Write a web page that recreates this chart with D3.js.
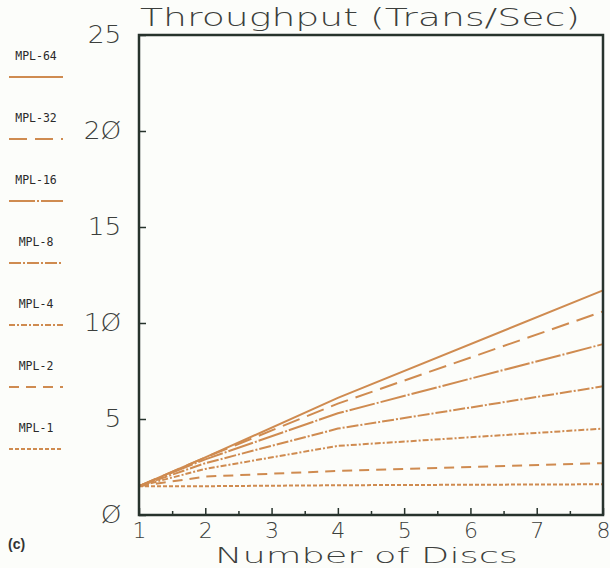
<!DOCTYPE html>
<html lang="en">
<head>
<meta charset="utf-8">
<title>Throughput vs. Number of Discs</title>
<script src="https://d3js.org/d3.v7.min.js"></script>
<style>
  body { margin: 0; background: #fcfdfa; }
  .plotfont { font-family: "DejaVu Sans", sans-serif; fill: #3c3f3c; }
</style>
</head>
<body>
<script>
// Data
const discs = [1, 2, 4, 8];
const seriesNames = ["MPL-64", "MPL-32", "MPL-16", "MPL-8", "MPL-4", "MPL-2", "MPL-1"];
const mpl64 = [1.5, 3.0, 6.1, 11.7];
const mpl32 = [1.5, 3.0, 5.8, 10.6];
const mpl16 = [1.5, 2.9, 5.3, 8.9];
const mpl8  = [1.5, 2.7, 4.5, 6.7];
const mpl4  = [1.5, 2.4, 3.6, 4.5];
const mpl2  = [1.5, 2.0, 2.3, 2.7];
const mpl1  = [1.5, 1.5, 1.55, 1.6];
const xTicks = [1, 2, 3, 4, 5, 6, 7, 8];
const yTicks = [0, 5, 10, 15, 20, 25];
const yTickLabels = ["Ø", "5", "1Ø", "15", "2Ø", "25"];

const seriesValues = [mpl64, mpl32, mpl16, mpl8, mpl4, mpl2, mpl1];
const dashes = ["none", "18,8", "26,2,2,2", "12,2,2,2", "6,2,2,2", "10,7", "4,2"];

// Constants
const w = 610, h = 568;
const plotLeft = 139, plotRight = 603, plotTop = 35, plotBottom = 515;
const lineColor = "#cf8b50";

const svg = d3.select("body").append("svg")
    .attr("width", w)
    .attr("height", h);

const x = d3.scaleLinear().domain([1, 8]).range([plotLeft, plotRight]);
const y = d3.scaleLinear().domain([0, 25]).range([plotBottom, plotTop]);

// Lines
const line = d3.line()
    .x((d, i) => x(discs[i]))
    .y(d => y(d));

svg.selectAll("path.series")
    .data(seriesValues)
    .enter()
    .append("path")
    .attr("class", "series")
    .attr("d", d => line(d))
    .attr("fill", "none")
    .attr("stroke", lineColor)
    .attr("stroke-width", 2)
    .attr("stroke-dasharray", (d, i) => dashes[i]);

// Frame
svg.append("rect")
    .attr("x", plotLeft)
    .attr("y", plotTop)
    .attr("width", plotRight - plotLeft)
    .attr("height", plotBottom - plotTop)
    .attr("fill", "none")
    .attr("stroke", "#27332c")
    .attr("stroke-width", 2.5);

// Left axis (ticks inside)
const leftAxis = d3.axisLeft(y)
    .tickValues(yTicks)
    .tickSize(-7)
    .tickPadding(16)
    .tickFormat((d, i) => yTickLabels[i]);

const gy = svg.append("g")
    .attr("transform", "translate(" + plotLeft + ",0)")
    .call(leftAxis);
gy.select(".domain").remove();
gy.selectAll("line").attr("stroke", "#27332c").attr("stroke-width", 1.5);
gy.selectAll("text")
    .attr("class", "plotfont")
    .attr("font-size", "24px")
    .attr("font-weight", 200)
    .attr("transform", "scale(1.1,1)");

// Bottom axis (ticks inside, with half-unit minor ticks)
const bottomAxis = d3.axisBottom(x)
    .tickValues(xTicks)
    .tickSize(-7)
    .tickPadding(7)
    .tickFormat(d3.format("d"));

const gx = svg.append("g")
    .attr("transform", "translate(0," + plotBottom + ")")
    .call(bottomAxis);
gx.select(".domain").remove();
gx.selectAll("line").attr("stroke", "#27332c").attr("stroke-width", 1.5);
gx.selectAll("text")
    .attr("class", "plotfont")
    .attr("font-size", "22px")
    .attr("font-weight", 200);
gx.selectAll(".tick").filter(d => d === 8).select("text")
    .attr("text-anchor", "end")
    .attr("x", 7);

const minorAxis = d3.axisBottom(x)
    .tickValues(d3.range(1.5, 8, 1))
    .tickSize(-4)
    .tickFormat("");
const gm = svg.append("g")
    .attr("transform", "translate(0," + plotBottom + ")")
    .call(minorAxis);
gm.select(".domain").remove();
gm.selectAll("line").attr("stroke", "#27332c").attr("stroke-width", 1.5);

// Titles
svg.append("text")
    .attr("class", "plotfont")
    .attr("x", 140)
    .attr("y", 26)
    .attr("font-size", "25px")
    .attr("font-weight", 200)
    .attr("textLength", 440)
    .attr("lengthAdjust", "spacingAndGlyphs")
    .text("Throughput (Trans/Sec)");

svg.append("text")
    .attr("class", "plotfont")
    .attr("x", 215)
    .attr("y", 562.5)
    .attr("font-size", "21.5px")
    .attr("font-weight", 200)
    .attr("textLength", 303)
    .attr("lengthAdjust", "spacingAndGlyphs")
    .text("Number of Discs");

svg.append("text")
    .attr("x", 8)
    .attr("y", 549)
    .attr("font-family", "Liberation Sans, Arial, sans-serif")
    .attr("font-size", "14px")
    .attr("font-weight", "bold")
    .attr("fill", "#333")
    .text("(c)");

// Legend
const legend = svg.selectAll("g.legend")
    .data(seriesNames)
    .enter()
    .append("g")
    .attr("class", "legend")
    .attr("transform", (d, i) => "translate(0," + (i * 62) + ")");

legend.append("text")
    .attr("x", 36)
    .attr("y", 60)
    .attr("text-anchor", "middle")
    .attr("font-family", "DejaVu Sans Mono, monospace")
    .attr("font-size", "11.5px")
    .attr("fill", "#2a2a2a")
    .text(d => d);

legend.append("line")
    .attr("x1", 9)
    .attr("x2", 63)
    .attr("y1", 77)
    .attr("y2", 77)
    .attr("stroke", lineColor)
    .attr("stroke-width", 2)
    .attr("stroke-dasharray", (d, i) => dashes[i]);
</script>
</body>
</html>
